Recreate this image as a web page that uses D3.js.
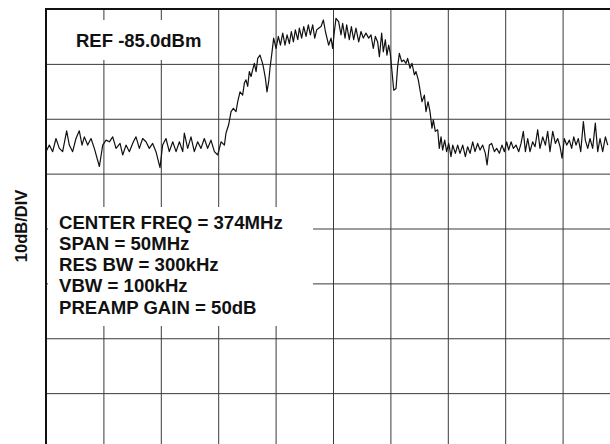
<!DOCTYPE html>
<html lang="en">
    <head>
        <meta charset="utf-8">
        <title>Spectrum: 374MHz</title>
        <script type="text/javascript" src="https://cdn.jsdelivr.net/npm/d3@7/dist/d3.min.js"></script>
        <style type="text/css">
            body { margin: 0; background: #fff; }
            svg { display: block; }
            text { font-family: "Liberation Sans", Arial, sans-serif; font-weight: bold; fill: #111; }
        </style>
    </head>

    <body>
        <script type="text/javascript">
            // Trace: frequency (MHz) and level (dBm)
            var freqMHz = [
                349.00, 349.29, 349.58, 349.87, 350.16, 350.45, 350.80, 351.03, 351.32, 351.61,
                351.90, 352.14, 352.34, 352.63, 352.92, 353.21, 353.65, 353.94, 354.23, 354.52,
                354.81, 355.10, 355.45, 355.68, 355.97, 356.26, 356.61, 356.84, 357.13, 357.42,
                357.71, 358.00, 358.29, 358.58, 358.93, 359.16, 359.45, 359.74, 360.04, 360.33,
                360.62, 360.91, 361.05, 361.34, 361.63, 361.92, 362.21, 362.50, 362.79, 363.08,
                363.37, 363.67, 363.96, 364.25, 364.54, 364.68, 364.91, 365.12, 365.32, 365.55,
                365.70, 365.90, 366.13, 366.28, 366.42, 366.57, 366.71, 366.86, 367.00, 367.15,
                367.30, 367.44, 367.64, 367.82, 367.93, 368.11, 368.25, 368.40, 368.51, 368.69,
                368.83, 369.04, 369.24, 369.42, 369.62, 369.82, 370.00, 370.20, 370.37, 370.55,
                370.72, 370.93, 371.07, 371.27, 371.45, 371.65, 371.85, 372.03, 372.23, 372.41,
                372.58, 372.75, 372.96, 373.16, 373.34, 373.62, 373.83, 373.97, 374.12, 374.26,
                374.49, 374.70, 374.84, 375.05, 375.19, 375.42, 375.60, 375.80, 376.00, 376.24,
                376.44, 376.64, 376.87, 377.11, 377.31, 377.51, 377.69, 377.89, 378.04, 378.24,
                378.38, 378.56, 378.70, 378.85, 378.99, 379.14, 379.29, 379.49, 379.63, 379.78,
                379.98, 380.16, 380.36, 380.50, 380.71, 380.88, 381.09, 381.23, 381.43, 381.61,
                381.75, 381.96, 382.10, 382.28, 382.45, 382.62, 382.74, 382.91, 383.12, 383.26,
                383.41, 383.55, 383.73, 383.90, 384.08, 384.28, 384.43, 384.66, 384.86, 385.06,
                385.30, 385.53, 385.73, 385.94, 386.17, 386.37, 386.60, 386.81, 387.04, 387.27,
                387.42, 387.62, 387.82, 388.06, 388.26, 388.49, 388.72, 388.93, 389.13, 389.30,
                389.51, 389.71, 389.94, 390.18, 390.38, 390.58, 390.76, 390.96, 391.16, 391.39,
                391.60, 391.83, 392.03, 392.27, 392.50, 392.70, 392.90, 393.14, 393.37, 393.57,
                393.78, 393.95, 394.15, 394.36, 394.59, 394.79, 394.97, 395.17, 395.37, 395.58,
                395.81, 395.98, 396.19, 396.39, 396.62, 396.85, 397.06, 397.26, 397.49, 397.73,
                397.93
            ];
            var levelDbm = [
                -111.0, -109.8, -111.0, -108.6, -110.4, -111.0, -107.2, -109.8, -111.0, -108.6,
                -107.2, -109.8, -108.3, -109.8, -108.6, -110.4, -113.7, -109.8, -108.9, -109.2,
                -108.3, -110.4, -109.5, -111.6, -109.8, -111.0, -109.2, -108.3, -110.4, -108.6,
                -109.2, -110.4, -109.5, -111.0, -113.9, -109.8, -108.6, -111.0, -109.2, -111.0,
                -109.2, -111.0, -107.6, -110.4, -108.3, -111.0, -109.2, -110.4, -108.6, -110.4,
                -108.9, -111.0, -111.6, -109.2, -109.8, -107.6, -106.1, -103.7, -103.1, -103.7,
                -101.9, -100.1, -100.7, -98.5, -97.9, -99.1, -96.4, -97.3, -96.1, -94.9,
                -96.4, -94.0, -93.4, -94.6, -95.5, -97.6, -100.1, -98.2, -95.8, -92.8,
                -90.3, -92.2, -90.0, -91.6, -89.4, -91.6, -89.7, -91.3, -89.1, -91.0,
                -88.8, -90.6, -88.5, -90.3, -88.2, -90.0, -87.9, -89.7, -87.9, -90.3,
                -88.8, -88.5, -88.2, -87.0, -89.1, -91.6, -90.3, -92.2, -89.1, -86.7,
                -87.3, -89.7, -87.6, -90.3, -87.9, -90.6, -88.2, -90.6, -88.5, -91.0,
                -89.1, -90.3, -89.4, -90.3, -89.7, -92.2, -90.0, -91.0, -93.7, -89.4,
                -92.8, -90.6, -93.4, -91.6, -93.1, -96.4, -99.8, -99.5, -95.5, -93.1,
                -94.6, -94.3, -94.9, -94.0, -95.8, -94.9, -97.0, -96.4, -97.9, -100.1,
                -101.9, -100.7, -103.7, -101.9, -103.7, -106.7, -105.2, -107.3, -107.0, -110.4,
                -108.3, -110.7, -108.9, -111.0, -109.5, -111.9, -109.8, -111.3, -109.8, -111.3,
                -109.8, -111.9, -110.1, -111.3, -109.2, -111.0, -109.5, -110.7, -109.8, -111.3,
                -113.4, -109.8, -109.5, -111.0, -110.4, -111.3, -109.8, -111.0, -109.2, -110.7,
                -109.2, -110.4, -109.8, -111.0, -109.5, -107.3, -111.0, -108.6, -111.0, -109.2,
                -110.1, -107.0, -110.4, -108.3, -109.8, -107.3, -111.0, -107.3, -109.5, -108.6,
                -110.1, -112.2, -108.6, -109.8, -108.9, -110.4, -108.3, -109.8, -108.6, -111.0,
                -105.5, -108.9, -110.4, -108.6, -110.4, -105.8, -111.0, -108.6, -111.0, -108.3,
                -109.8
            ];

            // Screen settings: 10 horizontal divisions of 5MHz, 8 vertical divisions of 10dB
            var freqStart = 349, freqStop = 399;
            var refLevel = -85, bottomLevel = -165;
            var freqTicks = d3.range(349, 400, 5);
            var levelTicks = d3.range(-85, -166, -10);

            var infoLines = [
                "CENTER FREQ = 374MHz",
                "SPAN = 50MHz",
                "RES BW = 300kHz",
                "VBW = 100kHz",
                "PREAMP GAIN = 50dB"
            ];

            var w = 610;
            var h = 444;
            // Graticule runs past the right and bottom edge of the photo
            var gLeft = 46, gTop = 9, gRight = 620, gBottom = 448;

            var svg = d3.select("body")
                        .append("svg")
                        .attr("width", w)
                        .attr("height", h);

            var x = d3.scaleLinear().domain([freqStart, freqStop]).range([gLeft, gRight]);
            var y = d3.scaleLinear().domain([refLevel, bottomLevel]).range([gTop, gBottom]);

            // Vertical grid lines
            svg.append("g")
                .attr("class", "grid")
                .attr("transform", "translate(0," + gBottom + ")")
                .call(d3.axisBottom(x).tickValues(freqTicks).tickSize(-(gBottom - gTop)).tickFormat(""))
                .call(function(g) { g.select(".domain").remove(); });

            // Horizontal grid lines
            svg.append("g")
                .attr("class", "grid")
                .attr("transform", "translate(" + gLeft + ",0)")
                .call(d3.axisLeft(y).tickValues(levelTicks).tickSize(-(gRight - gLeft)).tickFormat(""))
                .call(function(g) { g.select(".domain").remove(); });

            svg.selectAll(".grid line")
                .attr("stroke", "#3a3a3a")
                .attr("stroke-width", 1);

            // Heavier frame on the left and top
            svg.append("line")
                .attr("x1", x(freqStart)).attr("x2", x(freqStart))
                .attr("y1", gTop - 1).attr("y2", h)
                .attr("stroke", "#111").attr("stroke-width", 2);
            svg.append("line")
                .attr("x1", gLeft).attr("x2", w)
                .attr("y1", y(refLevel)).attr("y2", y(refLevel))
                .attr("stroke", "#111").attr("stroke-width", 2);

            // Trace
            var trace = d3.line()
                .x(function(d, i) { return x(freqMHz[i]); })
                .y(function(d) { return y(d); });

            svg.append("path")
                .datum(levelDbm)
                .attr("d", trace)
                .attr("fill", "none")
                .attr("stroke", "#111")
                .attr("stroke-width", 1.2)
                .attr("stroke-linejoin", "round");

            // White label patches knock out the grid behind the text
            svg.append("rect")
                .attr("x", gLeft + 2).attr("y", 20)
                .attr("width", 162).attr("height", 40)
                .attr("fill", "#fff");
            svg.append("rect")
                .attr("x", gLeft + 2).attr("y", 207)
                .attr("width", 265).attr("height", 119)
                .attr("fill", "#fff");

            svg.append("text")
                .attr("x", 76)
                .attr("y", 47)
                .attr("font-size", "18.5px")
                .text("REF " + refLevel.toFixed(1) + "dBm");

            svg.selectAll(".info")
                .data(infoLines)
                .enter()
                .append("text")
                .attr("class", "info")
                .attr("x", 59)
                .attr("y", function(d, i) { return 228.5 + i * 21.3; })
                .attr("font-size", "18.6px")
                .text(function(d) { return d; });

            // Vertical scale label
            svg.append("text")
                .attr("transform", "translate(27,226) rotate(-90)")
                .attr("text-anchor", "middle")
                .attr("font-size", "16.5px")
                .text("10dB/DIV");
        </script>
    </body>
</html>
